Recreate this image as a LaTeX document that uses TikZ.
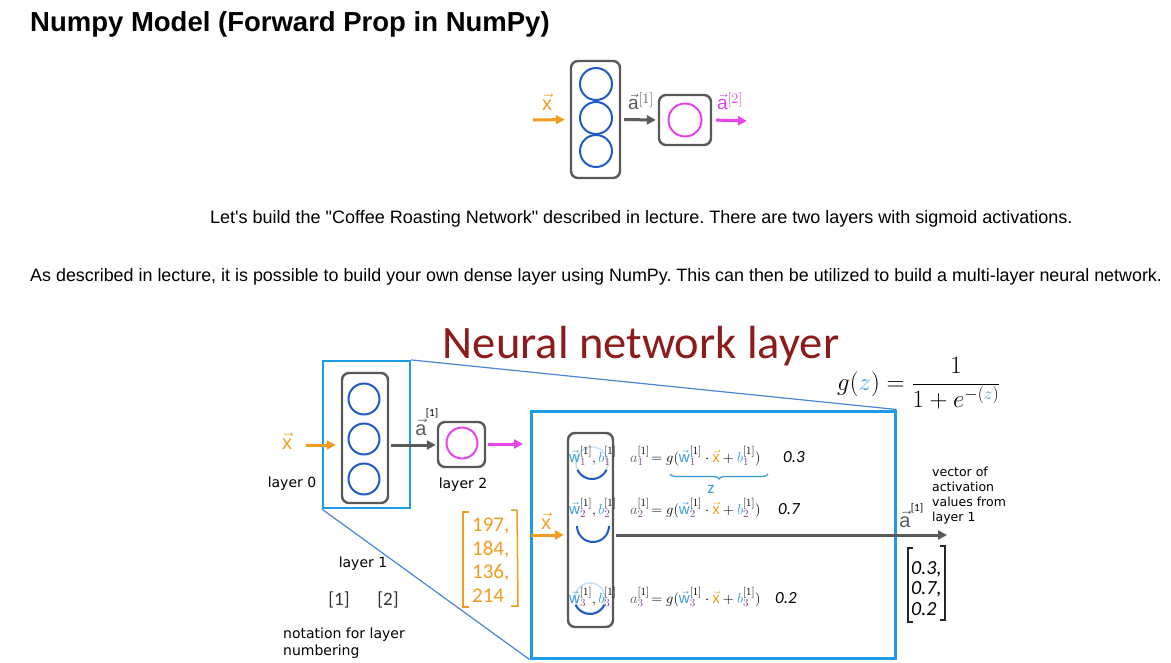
\documentclass[tikz,border=0pt]{standalone}
\usepackage{fontspec}
\setmainfont{Liberation Sans}[Ligatures=TeXOff]
\newfontfamily\cfont{Carlito}
\newfontfamily\vfont{DejaVu Sans}
\usetikzlibrary{arrows.meta,decorations.pathreplacing}
\definecolor{xorange}{HTML}{F29B21}
\definecolor{boxgray}{HTML}{595959}
\definecolor{nblue}{HTML}{1F5BC6}
\definecolor{mag}{HTML}{E843E8}
\definecolor{cyanb}{HTML}{1E9BE5}
\definecolor{lineblue}{HTML}{4A86D8}
\definecolor{darkred}{HTML}{8E1B1B}
\definecolor{wblue}{HTML}{3A9AD9}
\definecolor{subp}{HTML}{7E3F9D}
\definecolor{agray}{HTML}{5A5A5A}
\definecolor{faint}{HTML}{C9DFF2}
\newcommand{\xv}{\textcolor{xorange}{\vec{\mathrm{x}}}}
\newcommand{\wv}[1]{\textcolor{wblue}{\vec{\mathrm{w}}}^{[1]}_{\textcolor{subp}{#1}}}
\newcommand{\bv}[1]{\textcolor{wblue}{b}^{[1]}_{\textcolor{subp}{#1}}}
\newcommand{\av}[1]{\textcolor{agray}{a}^{[1]}_{\textcolor{subp}{#1}}}
\frenchspacing
\begin{document}
\begin{tikzpicture}[x=1pt,y=-1pt,
  gbox/.style={draw=boxgray, line width=2.4pt, rounded corners=7pt, inner sep=0pt},
  neuron/.style={draw=nblue, line width=2pt, circle, inner sep=0pt, minimum size=#1},
  mneuron/.style={draw=mag, line width=2pt, circle, inner sep=0pt, minimum size=#1},
  arr/.style={-{Triangle[length=9pt,width=9pt]}, line width=3pt},
  zoombox/.style={draw=cyanb, line width=2.2pt, inner sep=0pt},
  para/.style={anchor=base west, inner sep=0pt},
  lbl/.style={inner sep=0pt, font=\vfont\fontsize{14}{17}\selectfont},
  hand/.style={inner sep=0pt, font=\cfont\fontsize{21}{24}\selectfont},
  eq/.style={anchor=base west, inner sep=0pt, font=\fontsize{15}{17}\selectfont},
  faintc/.style={draw=faint, line width=1.5pt},
  darkarc/.style={draw=nblue, line width=2pt}
]
\useasboundingbox (0,0) rectangle (1171,663);

% ---------- header texts ----------
\node[anchor=base west, inner sep=0pt, font=\bfseries\fontsize{27.5}{30}\selectfont] (title) at (30,32) {Numpy Model (Forward Prop in NumPy)};
\node[para, font=\fontsize{18}{21}\selectfont] (p1) at (210,224) {Let's build the "Coffee Roasting Network" described in lecture. There are two layers with sigmoid activations.};
\node[para, font=\fontsize{17.9}{21}\selectfont] (p2) at (30,282) {As described in lecture, it is possible to build your own dense layer using NumPy. This can then be utilized to build a multi-layer neural network.};

% ---------- top network ----------
\coordinate (tx0) at (533,120);
\node[gbox, minimum width=49pt, minimum height=117pt] (tL1) at (595.5,119.5) {};
\node[neuron=32pt] (tn1) at (596,84) {};
\node[neuron=32pt] (tn2) at (596,118) {};
\node[neuron=32pt] (tn3) at (596,151) {};
\node[gbox, minimum width=52pt, minimum height=50pt] (tL2) at (685,120) {};
\node[mneuron=33pt] (tn4) at (685,120) {};
\coordinate (ta2) at (747,121);
\draw[arr, xorange, shorten >=5pt] (tx0) -- (tL1.west);
\draw[arr, agray, shorten <=3pt, shorten >=2pt] (tL1.east) -- (tL2.west);
\draw[arr, mag, shorten <=4pt] (tL2.east) -- (ta2);
\node[text=xorange, inner sep=0pt, font=\fontsize{20}{20}\selectfont] (tlx) at (547,102) {$\vec{\mathrm{x}}$};
\node[text=agray, inner sep=0pt, font=\fontsize{19}{19}\selectfont] (tla1) at (641,101) {$\vec{\mathrm{a}}^{[1]}$};
\node[text=mag, inner sep=0pt, font=\fontsize{19}{19}\selectfont] (tla2) at (730,101) {$\vec{\mathrm{a}}^{[2]}$};

% ---------- lower figure ----------
\node[anchor=base, inner sep=0pt, text=darkred, font=\cfont\fontsize{46.5}{46.5}\selectfont] (nnl) at (641,358) {Neural network layer};
\node[anchor=base west, inner sep=0pt, font=\fontsize{23}{23}\selectfont] (gz) at (837,390) {$g(\textcolor{wblue}{z}) = {\displaystyle\frac{1}{1+e^{-(\textcolor{wblue}{z})}}}$};

% left small network
\node[zoombox, minimum width=87pt, minimum height=147pt] (zoom) at (366.5,434.5) {};
\node[gbox, minimum width=46pt, minimum height=130pt] (L1) at (365,438) {};
\node[neuron=31pt] (n1) at (364,399) {};
\node[neuron=31pt] (n2) at (364,439) {};
\node[neuron=31pt] (n3) at (364,479) {};
\node[gbox, minimum width=47pt, minimum height=45pt] (L2) at (461.5,444.5) {};
\node[mneuron=31pt] (n4) at (462,443) {};
\coordinate (x0) at (306,445);
\coordinate (a2end) at (523,444);
\draw[arr, xorange, shorten >=5pt] (x0) -- (L1.west |- x0);
\draw[arr, agray, shorten <=2pt, shorten >=1pt] (L1.east |- x0) -- (L2.west |- x0);
\draw[arr, mag, shorten <=2pt] (L2.east |- a2end) -- (a2end);
\node[text=xorange, inner sep=0pt, font=\fontsize{20}{20}\selectfont] (lx) at (287,441) {$\vec{\mathrm{x}}$};
\node[text=agray, inner sep=0pt, font=\fontsize{20}{20}\selectfont] (la1) at (421,427) {$\vec{\mathrm{a}}$};
\node[inner sep=0pt, font=\cfont\fontsize{11}{11}\selectfont] (la1s) at (432,413) {[1]};
\node[lbl] (l0) at (292,484) {layer 0};
\node[lbl] (l2) at (463,485) {layer 2};
\node[lbl] (l1) at (363,564) {layer 1};
\node[inner sep=0pt, font=\cfont\fontsize{19}{19}\selectfont, text=black!80] (b1) at (339,600) {[1]};
\node[inner sep=0pt, font=\cfont\fontsize{19}{19}\selectfont, text=black!80] (b2) at (388,600) {[2]};
\node[lbl, anchor=base west, align=left] (nota) at (283,655) {notation for layer\\numbering};

% orange input vector
\draw[xorange, line width=1.5pt] (469,512) -- (463,512) -- (463,607) -- (469,607);
\draw[xorange, line width=1.5pt] (511,510) -- (517,510) -- (518,606) -- (511,606);
\node[hand, text=xorange, anchor=base west] (v1) at (472,531) {197,};
\node[hand, text=xorange, anchor=base west] (v2) at (472,555) {184,};
\node[hand, text=xorange, anchor=base west] (v3) at (472,578) {136,};
\node[hand, text=xorange, anchor=base west] (v4) at (472,602) {214};

% big box
\node[draw=cyanb, line width=3pt, inner sep=0pt, minimum width=364pt, minimum height=247pt] (big) at (713,534.5) {};
\draw[lineblue, line width=1.2pt] (zoom.north east) -- (big.north east);
\draw[lineblue, line width=1.2pt] (zoom.south west) -- (big.south west);

\node[gbox, minimum width=45pt, minimum height=194pt] (L1b) at (590.5,530) {};
\coordinate (c1) at (592,463);
\coordinate (c2) at (593,526);
\coordinate (c3) at (590,598);
\draw[faintc] (c1) circle[radius=16];
\draw[faintc] (c3) circle[radius=15];
\draw[darkarc] (c1) ++(25:16) arc[start angle=25, end angle=155, radius=16];
\draw[darkarc] (c2) ++(0:16) arc[start angle=0, end angle=180, radius=16];
\draw[darkarc] (c3) ++(25:16) arc[start angle=25, end angle=155, radius=16];

\coordinate (bx0) at (531,535);
\coordinate (aend) at (947,535);
\draw[arr, xorange, shorten >=3pt] (bx0) -- (L1b.west |- bx0);
\draw[arr, agray, shorten <=2pt] (L1b.east |- aend) -- (aend);
\node[text=xorange, inner sep=0pt, font=\fontsize{20}{20}\selectfont] (bx) at (546,521) {$\vec{\mathrm{x}}$};

% equations
\node[eq] (w1) at (569,462) {$\wv{1},\bv{1}$};
\node[eq] (e1) at (630,462) {$\av{1}\!= g(\wv{1}\cdot\xv+\bv{1})$};
\node[hand, anchor=base west, font=\cfont\itshape\fontsize{17}{17}\selectfont] (r1) at (783,462) {0.3};
\draw[decorate, decoration={brace, amplitude=5pt, mirror}, wblue, line width=1.3pt] (670,474) -- (768,474);
\node[inner sep=0pt, text=wblue, font=\cfont\fontsize{17}{17}\selectfont] (zl) at (711,489) {z};

\node[eq] (w2) at (569,514) {$\wv{2},\bv{2}$};
\node[eq] (e2) at (630,514) {$\av{2}\!= g(\wv{2}\cdot\xv+\bv{2})$};
\node[hand, anchor=base west, font=\cfont\itshape\fontsize{17}{17}\selectfont] (r2) at (778,514) {0.7};

\node[eq] (w3) at (569,603) {$\wv{3},\bv{3}$};
\node[eq] (e3) at (630,603) {$\av{3}\!= g(\wv{3}\cdot\xv+\bv{3})$};
\node[hand, anchor=base west, font=\cfont\itshape\fontsize{17}{17}\selectfont] (r3) at (775,603) {0.2};

% right side
\node[lbl, anchor=north west, align=left, font=\vfont\fontsize{12.5}{15}\selectfont] (vec) at (932,467) {vector of\\activation\\values from\\layer 1};
\node[text=agray, inner sep=0pt, font=\fontsize{20}{20}\selectfont] (ra1) at (905,519) {$\vec{\mathrm{a}}$};
\node[inner sep=0pt, font=\cfont\fontsize{11}{11}\selectfont] (ra1s) at (917,508) {[1]};
\draw[black!85, line width=1.2pt] (913,548) -- (908,548) -- (908,622) -- (913,622);
\draw[black!85, line width=1.2pt] (940,546) -- (945,546) -- (945,620) -- (940,620);
\node[hand, anchor=base west, font=\cfont\itshape\fontsize{20}{20}\selectfont] (o1) at (911,574) {0.3,};
\node[hand, anchor=base west, font=\cfont\itshape\fontsize{20}{20}\selectfont] (o2) at (911,594) {0.7,};
\node[hand, anchor=base west, font=\cfont\itshape\fontsize{20}{20}\selectfont] (o3) at (911,615) {0.2};
\end{tikzpicture}
\end{document}
